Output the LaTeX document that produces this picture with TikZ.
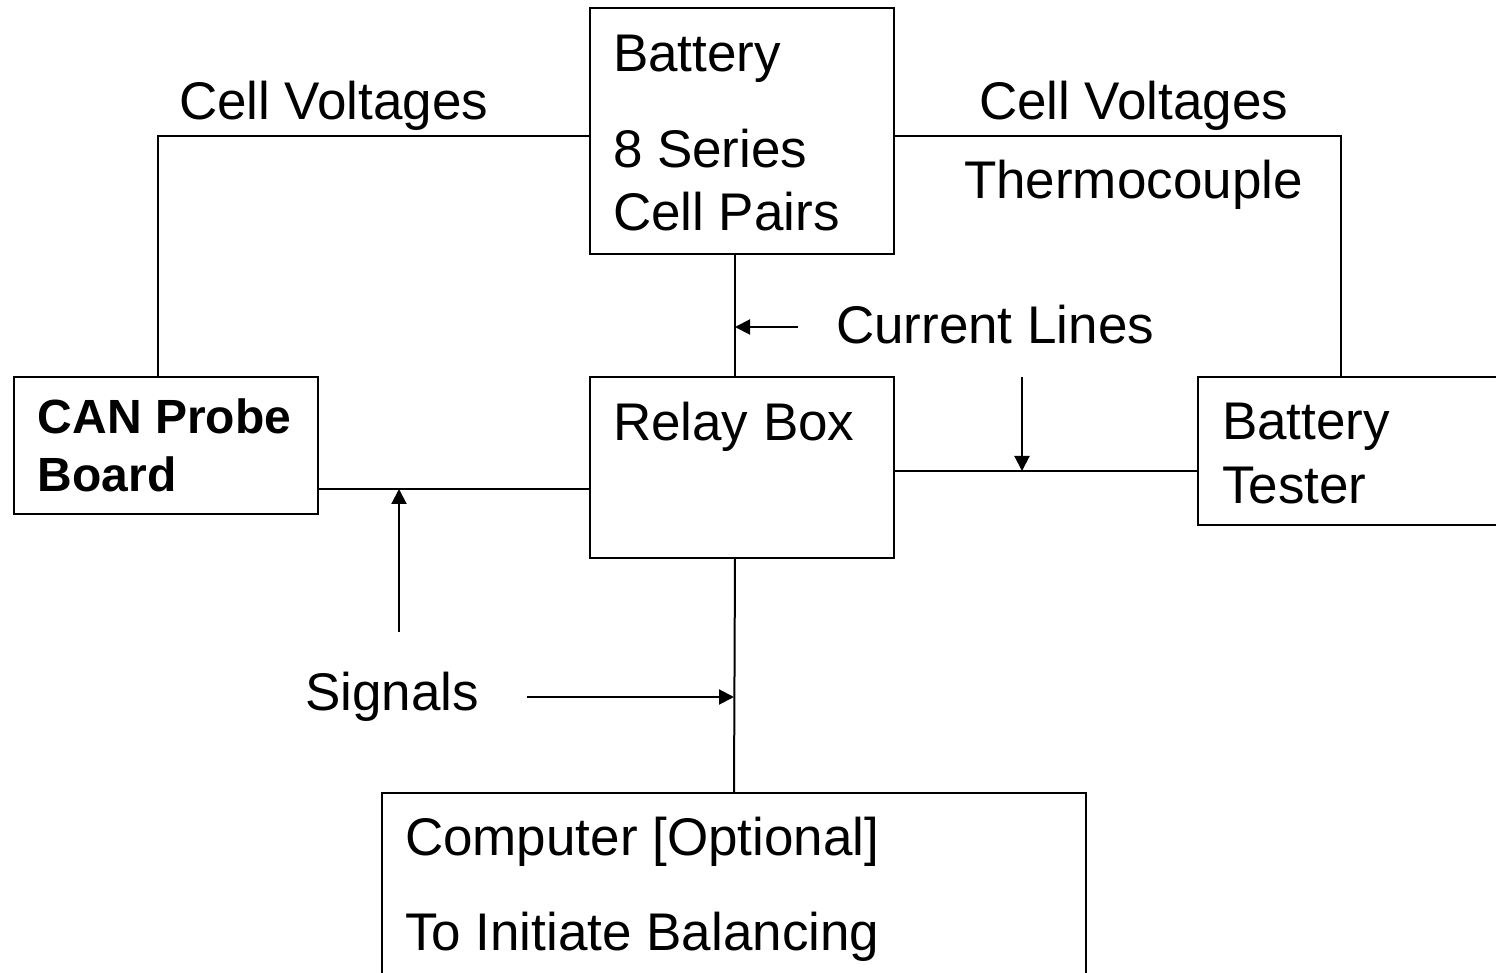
\documentclass[tikz,border=0pt]{standalone}
\usepackage{fontspec}
\setmainfont{Liberation Sans}
\usetikzlibrary{arrows.meta,positioning,calc}

\begin{document}
\begin{tikzpicture}[
  x=0.5pt, y=-0.5pt,
  line width=1pt,
  mybox/.style 2 args={
    draw,
    rectangle,
    inner sep=0pt,
    outer sep=0pt,
    minimum width=#1,
    minimum height=#2
    },
  mytext/.style={
    anchor=base west,
    inner sep=0pt,
    font=\fontsize{26.5}{31}\selectfont
    },
  myarrow/.style={-{Triangle[length=7.5pt,width=7.5pt]}}
]
\clip (0,0) rectangle (1496,973);

% boxes
\node[mybox={152pt}{123pt}] (battery) at (742,131) {};
\node[mybox={152pt}{90.5pt}] (relay) at (742,467.5) {};
\node[mybox={152pt}{68.5pt}] (probe) at (166,445.5) {};
\node[mybox={152pt}{74pt}] (tester) at (1350,451) {};
\node[mybox={352pt}{110pt}] (computer) at (734,903) {};

% box texts
\node[mytext] (batteryA) at (612,72) {Battery};
\node[mytext] (batteryB) at (612,168) {8 Series};
\node[mytext] (batteryC) at (612,231) {Cell Pairs};
\node[mytext] (relayA) at (612,441) {Relay Box};
\node[mytext, font=\fontsize{24}{29}\selectfont\bfseries] (probeA) at (37,434) {CAN Probe};
\node[mytext, font=\fontsize{24}{29}\selectfont\bfseries] (probeB) at (37,492) {Board};
\node[mytext] (testerA) at (1221,440) {Battery};
\node[mytext] (testerB) at (1221,503) {Tester};
\node[mytext] (computerA) at (404,855) {Computer [Optional]};
\node[mytext] (computerB) at (404,950) {To Initiate Balancing};

% labels
\node[mytext] (voltsL) at (178,120) {Cell Voltages};
\node[mytext] (voltsR) at (978,120) {Cell Voltages};
\node[mytext] (thermo) at (963,199) {Thermocouple};
\node[mytext] (current) at (835,344) {Current Lines};
\node[mytext] (signals) at (304,711) {Signals};

% wires
\coordinate (bs) at ([xshift=-3.5pt]battery.south);
\coordinate (rn) at ([xshift=-3.5pt]relay.north);
\coordinate (rs) at ([xshift=-3.5pt]relay.south);
\draw ([yshift=-2.5pt]battery.west) -| ([xshift=-4pt]probe.north);
\draw ([yshift=-2.5pt]battery.east) -| ([xshift=-4.5pt]tester.north);
\draw (bs) -- (rn);
\draw (rs) -- (computer.north);
\draw (probe.east |- 0,489) -- (relay.west |- 0,489);
\draw (relay.east |- 0,471) -- (tester.west |- 0,471);

% arrows
\coordinate (curtail) at (798,327);
\draw[myarrow] (curtail) -- (curtail -| rn);
\coordinate (testtail) at (1022,377);
\draw[myarrow] (testtail) -- (testtail |- 0,471);
\coordinate (sigtailA) at (399,632);
\draw[myarrow] (sigtailA) -- (sigtailA |- 0,489);
\coordinate (sigtailB) at (527,697);
\draw[myarrow] (sigtailB) -- (sigtailB -| computer.north);
\end{tikzpicture}
\end{document}
